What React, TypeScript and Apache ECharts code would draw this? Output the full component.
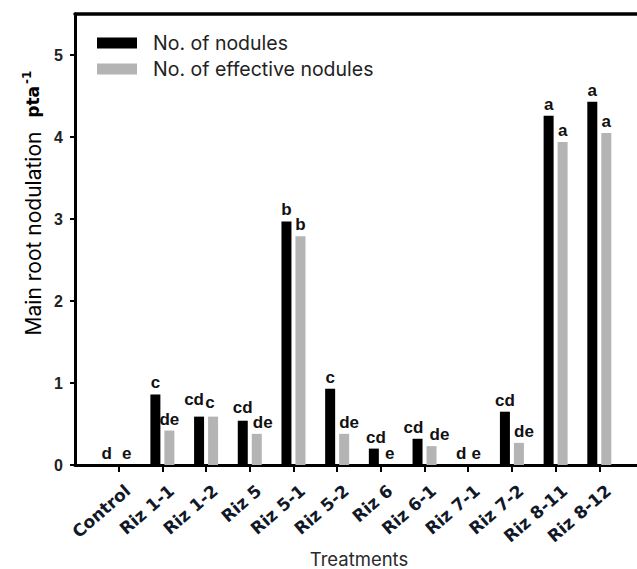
import React, { useEffect, useRef } from "react";
import * as echarts from "echarts";

const categories = ["Control", "Riz 1-1", "Riz 1-2", "Riz 5", "Riz 5-1", "Riz 5-2", "Riz 6", "Riz 6-1", "Riz 7-1", "Riz 7-2", "Riz 8-11", "Riz 8-12"];
const nodules = [0, 0.86, 0.59, 0.54, 2.97, 0.93, 0.2, 0.32, 0, 0.65, 4.26, 4.43];
const effectiveNodules = [0, 0.42, 0.59, 0.38, 2.79, 0.38, 0, 0.23, 0, 0.27, 3.94, 4.05];
const noduleLetters = ["d", "c", "cd", "cd", "b", "c", "cd", "cd", "d", "cd", "a", "a"];
const effectiveLetters = ["e", "de", "c", "de", "b", "de", "e", "de", "e", "de", "a", "a"];
const yTicks = [0, 1, 2, 3, 4, 5];
const seriesNames = ["No. of nodules", "No. of effective nodules"];

// small label nudges (style only), [dx, dy] per category
const noduleLabelNudge = [[-5, 0], [0, 0], [-5, -6], [0, -2], [0, 0], [0, 0], [2, 0], [-4, 0], [0, 0], [0, 0], [0, 0], [0, 0]];
const effectiveLabelNudge = [[1, 0], [0, 0], [-3, -3], [6, 0], [0, 0], [5, 0], [2, 0], [8, 0], [1, 0], [5, 0], [0, 0], [0, 0]];

export default function App() {
  const ref = useRef<HTMLDivElement>(null);
  useEffect(() => {
    if (!ref.current) return;
    const chart = echarts.init(ref.current, undefined, { renderer: "svg" });
    const cats = ["", ...categories, " "];
    const labelStyle = {
      show: true,
      position: "top" as const,
      distance: 3,
      fontFamily: "Liberation Sans, Arial",
      fontWeight: "bold" as const,
      fontSize: 17,
      color: "#111",
    };
    const buildData = (vals: number[], letters: string[], nudges: number[][]) => [
      null,
      ...vals.map((v, i) => ({
        value: v,
        label: { formatter: letters[i], offset: nudges[i] },
      })),
      null,
    ];
    chart.setOption({
      animation: false,
      backgroundColor: "#fff",
      grid: { left: 75, top: 14, right: 17, bottom: 104, containLabel: false, outerBoundsMode: "none" },
      legend: {
        data: seriesNames,
        orient: "vertical",
        left: 97,
        top: 33,
        padding: 0,
        itemWidth: 40,
        itemHeight: 11,
        itemGap: 6,
        icon: "rect",
        textStyle: { fontFamily: "Inter", fontSize: 19.5, lineHeight: 19, color: "#222", padding: [0, 0, 0, 11] },
      },
      xAxis: [
        {
          type: "category",
          data: cats,
          boundaryGap: false,
          axisLine: { lineStyle: { color: "#000", width: 3 } },
          axisTick: { show: true, length: 7, lineStyle: { color: "#000", width: 2 }, interval: (i: number) => i > 0 && i < cats.length - 1 },
          axisLabel: {
            interval: 0,
            rotate: 41,
            margin: 31,
            padding: [0, -12, 0, 0],
            fontFamily: "DejaVu Sans",
            fontWeight: "bold",
            fontSize: 17,
            color: "#111827",
          },
          name: "Treatments",
          nameLocation: "middle",
          nameGap: 84,
          nameMoveOverlap: false,
          nameTextStyle: { fontFamily: "Inter", fontSize: 18.5, lineHeight: 20, color: "#2a2a2a" },
        },
        {
          type: "category",
          position: "top",
          data: cats,
          boundaryGap: false,
          axisLine: { show: true, lineStyle: { color: "#000", width: 3.5 } },
          axisTick: { show: false },
          axisLabel: { show: false },
        },
      ],
      yAxis: {
        type: "value",
        min: 0,
        max: 5.5,
        interval: 1,
        splitLine: { show: false },
        axisLine: { show: true, lineStyle: { color: "#000", width: 3 } },
        axisTick: { show: true, length: 5, lineStyle: { color: "#000", width: 2 }, customValues: yTicks },
        axisLabel: {
          customValues: yTicks,
          margin: 12,
          fontFamily: "Liberation Sans, Arial",
          fontWeight: "bold",
          fontSize: 16,
          color: "#222",
        },
      },
      graphic: [
        {
          type: "text",
          x: 33,
          y: 203,
          rotation: Math.PI / 2,
          style: {
            text: "{a|Main root nodulation }{b|pta}{c|-1}",
            align: "center",
            verticalAlign: "middle",
            rich: {
              a: { fontFamily: "Inter", fontSize: 21, color: "#2a2a2a", lineHeight: 24, padding: [0, 8, 0, 0] },
              b: { fontFamily: "DejaVu Sans", fontWeight: "bold", fontSize: 17, color: "#111", lineHeight: 24 },
              c: { fontFamily: "DejaVu Sans", fontWeight: "bold", fontSize: 12, color: "#111", verticalAlign: "top", lineHeight: 13, padding: [0, 0, 0, 2] },
            },
          },
        },
      ],
      series: [
        {
          name: seriesNames[0],
          type: "bar",
          xAxisIndex: 0,
          data: buildData(nodules, noduleLetters, noduleLabelNudge),
          barWidth: 10,
          barGap: "40%",
          itemStyle: { color: "#000" },
          label: labelStyle,
        },
        {
          name: seriesNames[1],
          type: "bar",
          xAxisIndex: 0,
          data: buildData(effectiveNodules, effectiveLetters, effectiveLabelNudge),
          barWidth: 10,
          barGap: "40%",
          itemStyle: { color: "#b4b4b4" },
          label: labelStyle,
        },
      ],
    });
    return () => chart.dispose();
  }, []);
  return (
    <div style={{ position: "absolute", left: 0, top: 0, width: 637, height: 569, overflow: "hidden", background: "#fff" }}>
      <div ref={ref} style={{ width: 660, height: 569 }} />
    </div>
  );
}
